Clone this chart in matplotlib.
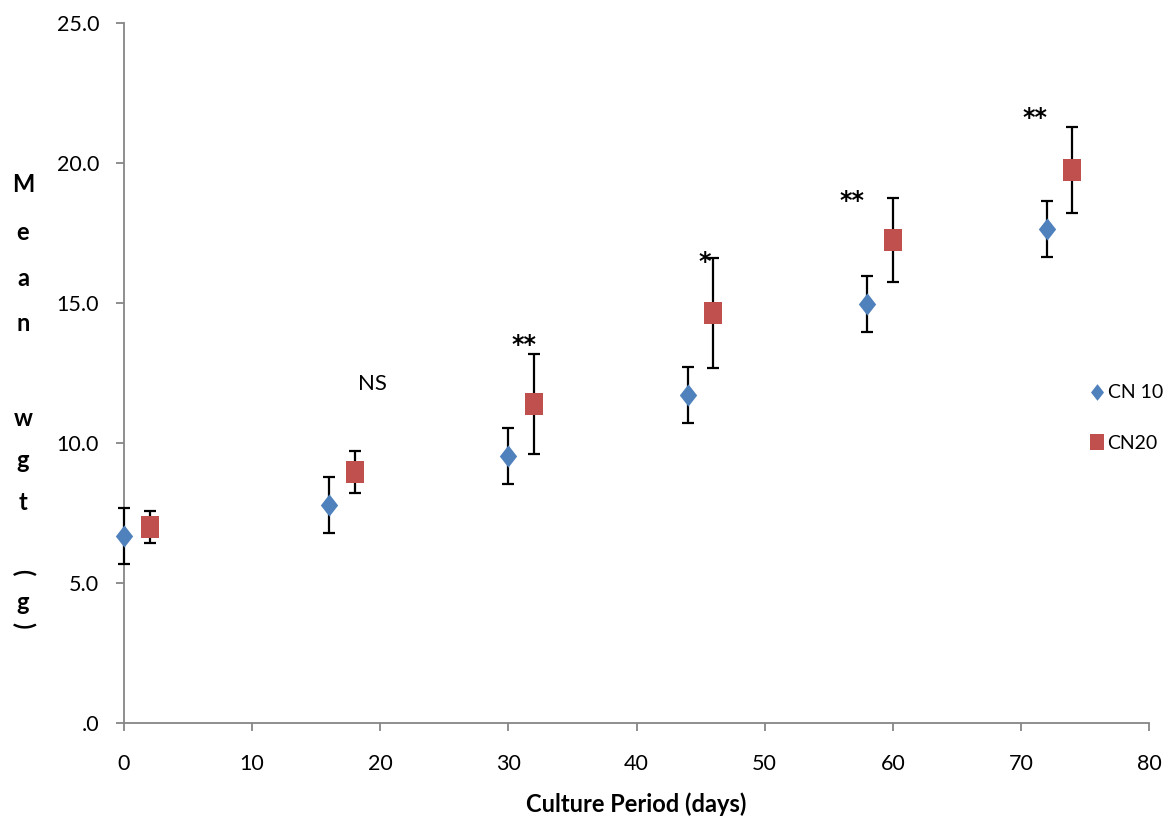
import matplotlib
matplotlib.use("Agg")
import matplotlib.pyplot as plt
import numpy as np

days_cn10 = [0, 16, 30, 44, 58, 72]
wgt_cn10 = [6.68, 7.79, 9.54, 11.72, 14.98, 17.66]
err_cn10 = [1.0, 1.0, 1.0, 1.0, 1.0, 1.0]

days_cn20 = [2, 18, 32, 46, 60, 74]
wgt_cn20 = [7.0, 8.96, 11.39, 14.64, 17.26, 19.76]
err_cn20 = [0.57, 0.75, 1.78, 1.96, 1.5, 1.53]

sig_labels = ["NS", "**", "*", "**", "**"]
sig_x = [19.4, 31.2, 45.3, 56.8, 71.1]
sig_y = [12.1, 13.5, 16.45, 18.65, 21.6]

yticks = [0, 5, 10, 15, 20, 25]
ytick_labels = [".0", "5.0", "10.0", "15.0", "20.0", "25.0"]
xticks = [0, 10, 20, 30, 40, 50, 60, 70, 80]

plt.rcParams['font.family'] = ['Lato', 'DejaVu Sans']

W, H = 1168, 825
fig = plt.figure(figsize=(W / 100, H / 100), dpi=100)
ax = fig.add_axes([124 / W, 1 - 723 / H, (1149 - 124) / W, (723 - 23) / H])

blue = "#4F81BD"
red = "#C0504D"
diamond = [(-0.78, 0), (0, 1), (0.78, 0), (0, -1), (-0.78, 0)]
square = [(-0.82, -1), (0.82, -1), (0.82, 1), (-0.82, 1), (-0.82, -1)]

for xs, ys, es in [(days_cn10, wgt_cn10, err_cn10), (days_cn20, wgt_cn20, err_cn20)]:
    eb = ax.errorbar(xs, ys, yerr=es, fmt='none', ecolor='black',
                     elinewidth=1.6, capsize=4, capthick=1.6, zorder=2.7)
    for art in eb.lines[1]:
        art.set_clip_on(False)
    for art in eb.lines[2]:
        art.set_clip_on(False)

h1, = ax.plot(days_cn10, wgt_cn10, linestyle='none', marker=diamond, markersize=16,
              color=blue, markeredgewidth=0, label="CN 10", zorder=3, clip_on=False)
h2, = ax.plot(days_cn20, wgt_cn20, linestyle='none', marker=square, markersize=16,
              color=red, markeredgewidth=0, label="CN20", zorder=3, clip_on=False)

for lab, x, y in zip(sig_labels, sig_x, sig_y):
    if lab == "NS":
        ax.text(x, y, lab, ha='center', va='center', fontsize=16, color='black')
    else:
        ax.text(x, y, lab, ha='center', va='center', fontsize=17, color='black',
                family='DejaVu Sans', fontweight='bold')

ax.set_xlim(0, 80)
ax.set_ylim(0, 25)
ax.set_xticks(xticks)
ax.set_xticklabels([str(t) for t in xticks], fontsize=15.5)
ax.set_yticks(yticks)
ax.set_yticklabels(ytick_labels, fontsize=15.5)
ax.tick_params(axis='both', direction='out', length=6, width=1.3, color='#868686')
ax.tick_params(axis='x', pad=16)
ax.tick_params(axis='y', pad=12)
for s in ['top', 'right']:
    ax.spines[s].set_visible(False)
for s in ['left', 'bottom']:
    ax.spines[s].set_color('#868686')
    ax.spines[s].set_linewidth(1.3)

fig.text(636 / W, 1 - 804 / H, "Culture Period (days)", ha='center', va='center',
         fontsize=17, fontweight='bold')

# stacked vertical y label
letters = ["M", "e", "a", "n", "w", "g", "t", "(", "g", ")"]
ypix = [185, 232, 278, 323, 418, 460, 502, 572, 603, 625]
for ch, yp in zip(letters, ypix):
    rot = -90 if ch in "()" else 0
    fig.text(23 / W, 1 - yp / H, ch, ha='center', va='center', fontsize=17,
             fontweight='bold', rotation=rot)

fig.legend(handles=[h1, h2], loc='center left', bbox_to_anchor=(1091 / W, 1 - 418 / H),
           frameon=False, fontsize=14, handlelength=0.6, handletextpad=0.25,
           labelspacing=1.7, markerscale=0.75, borderaxespad=0, borderpad=0)

fig.savefig("out.png", dpi=100)
